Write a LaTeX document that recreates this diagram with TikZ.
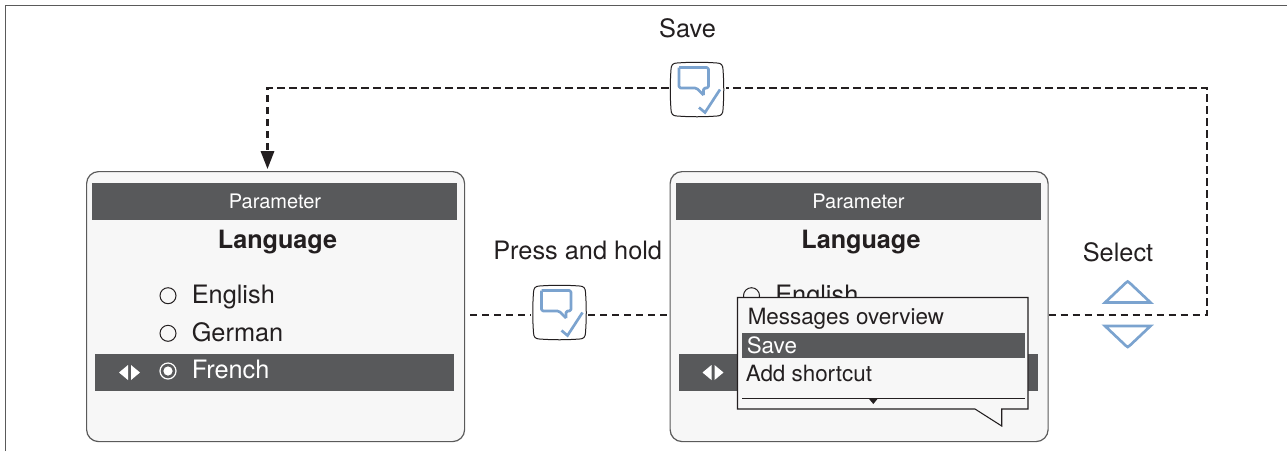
\documentclass[tikz,border=0pt]{standalone}
\usepackage{fontspec}
\setmainfont{TeX Gyre Heros}
\usetikzlibrary{arrows.meta,positioning}
\definecolor{bardark}{HTML}{58595B}
\definecolor{paneface}{HTML}{F7F7F7}
\definecolor{panerim}{HTML}{5A5A5A}
\definecolor{keyblue}{HTML}{7BA3CF}
\definecolor{inkdark}{HTML}{231F20}
\tikzset{
  x=0.75pt,y=-0.75pt,
  bigtext/.style={text=inkdark,inner sep=0pt,font=\fontsize{19}{19}\selectfont},
  menutext/.style={text=inkdark,inner sep=0pt,anchor=base west,font=\fontsize{16.8}{17}\selectfont},
  dashline/.style={inkdark,line width=1.7pt,dash pattern=on 5.5pt off 3.5pt},
  iconline/.style={keyblue,line width=2pt},
  radio/.style={inkdark,line width=0.75pt},
  screen/.pic={
    \node[draw=panerim,fill=paneface,line width=0.9pt,rounded corners=9pt,anchor=north west,
      minimum width=283.5pt,minimum height=202.5pt,inner sep=0pt] (-frame) at (0,0) {};
    \fill[bardark] (6,12) rectangle (371,49);
    \node[text=white,inner sep=0pt,anchor=base,font=\fontsize{15}{15}\selectfont] (-title) at (189,37.5) {Parameter};
    \node[text=inkdark,inner sep=0pt,anchor=base,font=\fontsize{18.9}{19}\selectfont\bfseries] (-name) at (191.5,77) {Language};
    %%%%%%%%%%%%%%%%
    \draw[radio] (82,124.7) circle (8);
    \node[bigtext,anchor=base west] (-first) at (105.5,132) {English};
    %%%%%%%%%%%%%%%%
    \fill[bardark] (9,183) rectangle (368,220);
    \fill[white] (42,194) -- (33,201.5) -- (42,209) -- cycle;
    \fill[white] (45,194) -- (54,201.5) -- (45,209) -- cycle;
  },
  keycap/.pic={
    \node[minimum size=39.75pt,inner sep=0pt,outer sep=1.5pt] (-body) at (0,0) {};
    \draw[inkdark,line width=0.75pt,fill=white]
      (-20,-26.5) .. controls (-7,-27.5) and (7,-27.5) .. (20,-26.5)
      .. controls (24,-26.5) and (26,-24.5) .. (26,-20)
      .. controls (27,-7) and (27,7) .. (26,20)
      .. controls (26,24.5) and (24,26.5) .. (20,26.5)
      .. controls (7,27.5) and (-7,27.5) .. (-20,26.5)
      .. controls (-24,26.5) and (-26,24.5) .. (-26,20)
      .. controls (-27,7) and (-27,-7) .. (-26,-20)
      .. controls (-26,-24.5) and (-24,-26.5) .. (-20,-26.5) -- cycle;
    \draw[iconline,rounded corners=1.2pt,line join=round]
      (-18,-22) -- (11.5,-22) -- (11.5,-1.5) -- (6.5,-1.5) -- (6.5,5.5);
    \draw[iconline,rounded corners=1.2pt,line join=round]
      (6.5,5.5) -- (-0.5,-1.5) -- (-18,-1.5) -- (-18,-22);
    \draw[iconline] (2,18) -- (8,23) -- (23,0);
  }
}
\begin{document}
\begin{tikzpicture}
\useasboundingbox (0,0) rectangle (1287,451);
\draw[panerim,line width=0.9pt] (5.5,451) -- (5.5,5.5) -- (1287,5.5);
%%%%%%%%%%%%%%%%
\pic (screenA) at (86,171) {screen};
\pic (screenB) at (669.5,171) {screen};
%%%%%%%%%%%%%%%%
\draw[radio] (168,333.3) circle (8);
\node[bigtext,anchor=base west] (germanA) at (191.5,341) {German};
\draw[white,line width=0.9pt] (168,371) circle (8);
\fill[white] (168,371) circle (4.6);
\node[bigtext,text=white,anchor=base west] (frenchA) at (191.5,378) {French};
%%%%%%%%%%%%%%%%
\draw[inkdark,line width=0.8pt,fill=paneface] (737.5,297.5) -- (1028,297.5) -- (1028,409)
  -- (1001.7,409) -- (1001.7,426) -- (975,409) -- (737.5,409) -- cycle;
\fill[bardark] (742,332.7) rectangle (1025,357.7);
\node[menutext] (menuA) at (747.5,324.3) {Messages overview};
\node[menutext,text=white] (menuB) at (746.5,353) {Save};
\node[menutext] (menuC) at (745.5,381.7) {Add shortcut};
\draw[inkdark,line width=0.6pt] (742,398.3) -- (1025,398.3);
\fill[inkdark] (868.5,398.3) -- (878,398.3) -- (873.3,404) -- cycle;
%%%%%%%%%%%%%%%%
\pic (keyA) at (559.5,312.5) {keycap};
\pic (keyB) at (697,89.5) {keycap};
\node[bigtext] (saveLabel) at (687.5,28.5) {Save};
\node[bigtext] (holdLabel) at (577.7,250.5) {Press and hold};
\node[bigtext] (selectLabel) at (1118,252) {Select};
%%%%%%%%%%%%%%%%
\coordinate (portA) at (470,315);
\coordinate (portB) at (670,315);
\coordinate (portC) at (1048.5,315);
\coordinate (rowB) at (1207,88);
\coordinate (dropA) at (267.5,169);
\draw[dashline] (portA) -- (keyA-body.west |- portA);
\draw[dashline] (keyA-body.east |- portB) -- (portB);
\draw[dashline] (portC) -| (rowB) -- (keyB-body.east |- rowB);
\draw[dashline,-{Triangle[length=13.5pt,width=10pt]}] (keyB-body.west |- rowB) -| (dropA);
%%%%%%%%%%%%%%%%
\draw[iconline] (1105,302.5) -- (1125.6,283) .. controls (1127.7,281) .. (1129.8,283) -- (1150.5,302.5) -- cycle;
\draw[iconline] (1105,326) -- (1125.6,345.5) .. controls (1127.7,347.5) .. (1129.8,345.5) -- (1150.5,326) -- cycle;
\end{tikzpicture}
\end{document}
